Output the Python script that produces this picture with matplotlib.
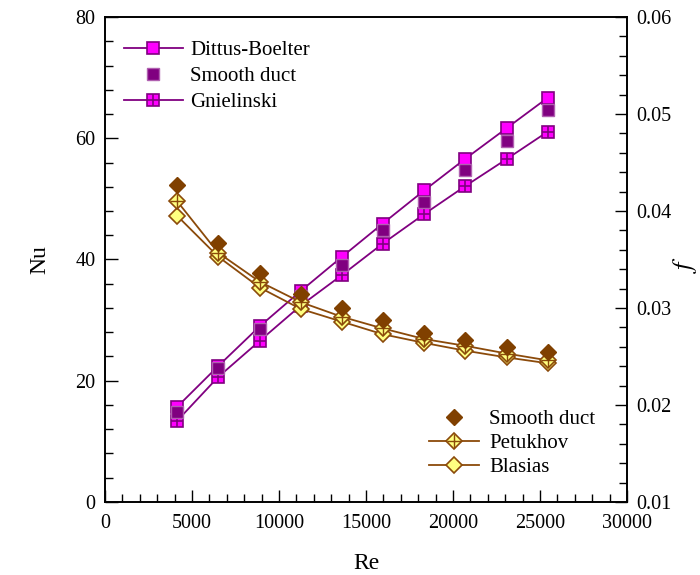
import matplotlib
matplotlib.use("Agg")
import matplotlib.pyplot as plt
from matplotlib.ticker import MultipleLocator, FuncFormatter

plt.rcParams['font.family'] = ['Liberation Serif', 'DejaVu Serif']
plt.rcParams['mathtext.fontset'] = 'stix'

Re = [4150, 6500, 8900, 11250, 13600, 15950, 18350, 20700, 23100, 25450]
nu_dittus = [15.7, 22.4, 29.0, 34.8, 40.4, 45.9, 51.4, 56.6, 61.7, 66.7]
nu_smooth = [14.8, 22.1, 28.5, 34.0, 39.1, 44.9, 49.5, 54.7, 59.5, 64.7]
nu_gniel = [13.4, 20.6, 26.6, 32.4, 37.4, 42.6, 47.5, 52.1, 56.6, 61.1]
f_smooth = [0.0427, 0.0367, 0.0336, 0.0314, 0.0300, 0.0288, 0.0274, 0.0267, 0.0260, 0.0255]
f_petukhov = [0.0410, 0.0357, 0.0327, 0.0306, 0.0291, 0.0279, 0.0268, 0.0261, 0.0253, 0.0246]
f_blasius = [0.0395, 0.0353, 0.0321, 0.0299, 0.0286, 0.0273, 0.0264, 0.0256, 0.0249, 0.0243]

purple = '#800080'
magenta = '#FF00FF'
brown = '#804000'
lbrown = '#8B4A0A'
yellow = '#FFFF80'

fig = plt.figure(figsize=(7, 5.75), dpi=100)
ax = fig.add_axes([0.15, 0.127, 0.7457, 0.8434])
ax2 = ax.twinx()

ms = 9
l_db, = ax.plot(Re, nu_dittus, '-', color=purple, lw=1.3, marker='s', ms=ms,
                mfc=magenta, mec=purple, mew=1.2, zorder=3)
l_sm, = ax.plot(Re, nu_smooth, marker='s', ms=ms, mfc=purple,
                mec='#B060B0', mew=1.0, linestyle='none', zorder=4)
l_gn, = ax.plot(Re, nu_gniel, '-', color=purple, lw=1.3, marker='s', ms=ms,
                mfc=magenta, mec=purple, mew=1.2, zorder=3)
l_gnp, = ax.plot(Re, nu_gniel, linestyle='none', marker='+', ms=ms, mec=purple,
                 mew=1.2, zorder=3.5)

dms = 8.2
d_sm, = ax2.plot(Re, f_smooth, linestyle='none', marker='D', ms=dms,
                 mfc=brown, mec=brown, mew=1.0, zorder=5)
d_pt, = ax2.plot(Re, f_petukhov, '-', color=lbrown, lw=1.3, marker='D',
                 ms=dms, mfc=yellow, mec=lbrown, mew=1.2, zorder=4)
d_ptp, = ax2.plot(Re, f_petukhov, linestyle='none', marker='+', ms=dms * 1.15,
                  mec=lbrown, mew=1.0, zorder=4.5)
d_bl, = ax2.plot(Re, f_blasius, '-', color=lbrown, lw=1.3, marker='D',
                 ms=dms, mfc=yellow, mec=lbrown, mew=1.2, zorder=3)

ax.set_xlim(0, 30000)
ax.set_ylim(0, 80)
ax2.set_ylim(0.01, 0.06)

ax.xaxis.set_major_locator(MultipleLocator(5000))
ax.xaxis.set_minor_locator(MultipleLocator(1000))
ax.yaxis.set_major_locator(MultipleLocator(20))
ax.yaxis.set_minor_locator(MultipleLocator(4))
ax2.yaxis.set_major_locator(MultipleLocator(0.01))
ax2.yaxis.set_minor_locator(MultipleLocator(0.002))

for a in (ax, ax2):
    a.tick_params(which='major', direction='in', length=9, width=1.0, labelsize=14.5, pad=7)
    a.tick_params(which='minor', direction='in', length=6, width=1.0)
    for s in a.spines.values():
        s.set_linewidth(1.2)
ax.tick_params(axis='both', which='both', top=False, right=False)
ax.tick_params(axis='x', which='major', pad=9)

ax2.yaxis.set_major_formatter(FuncFormatter(lambda v, p: f"{v:.2f}"))

ax.set_xlabel('Re', fontsize=17)
ax.xaxis.set_label_coords(0.5, -0.105)
ax.set_ylabel('Nu', fontsize=17)
ax.yaxis.set_label_coords(-0.105, 0.5)
ax2.set_ylabel('$f$', fontsize=19)
ax2.yaxis.set_label_coords(1.085, 0.49)

leg1 = ax.legend([l_db, l_sm, (l_gn, l_gnp)], ['Dittus-Boelter', 'Smooth duct', 'Gnielinski'],
                 loc='upper left', bbox_to_anchor=(0.001, 0.99), frameon=False,
                 fontsize=15, handlelength=2.8, handletextpad=0.35, labelspacing=0.3)
leg2 = ax2.legend([d_sm, (d_pt, d_ptp), d_bl], ['Smooth duct', 'Petukhov', 'Blasias'],
                  loc='lower right', bbox_to_anchor=(0.975, 0.012), frameon=False,
                  fontsize=15, handlelength=2.4, handletextpad=0.5, labelspacing=0.22)

fig.savefig('out.png', dpi=100)
